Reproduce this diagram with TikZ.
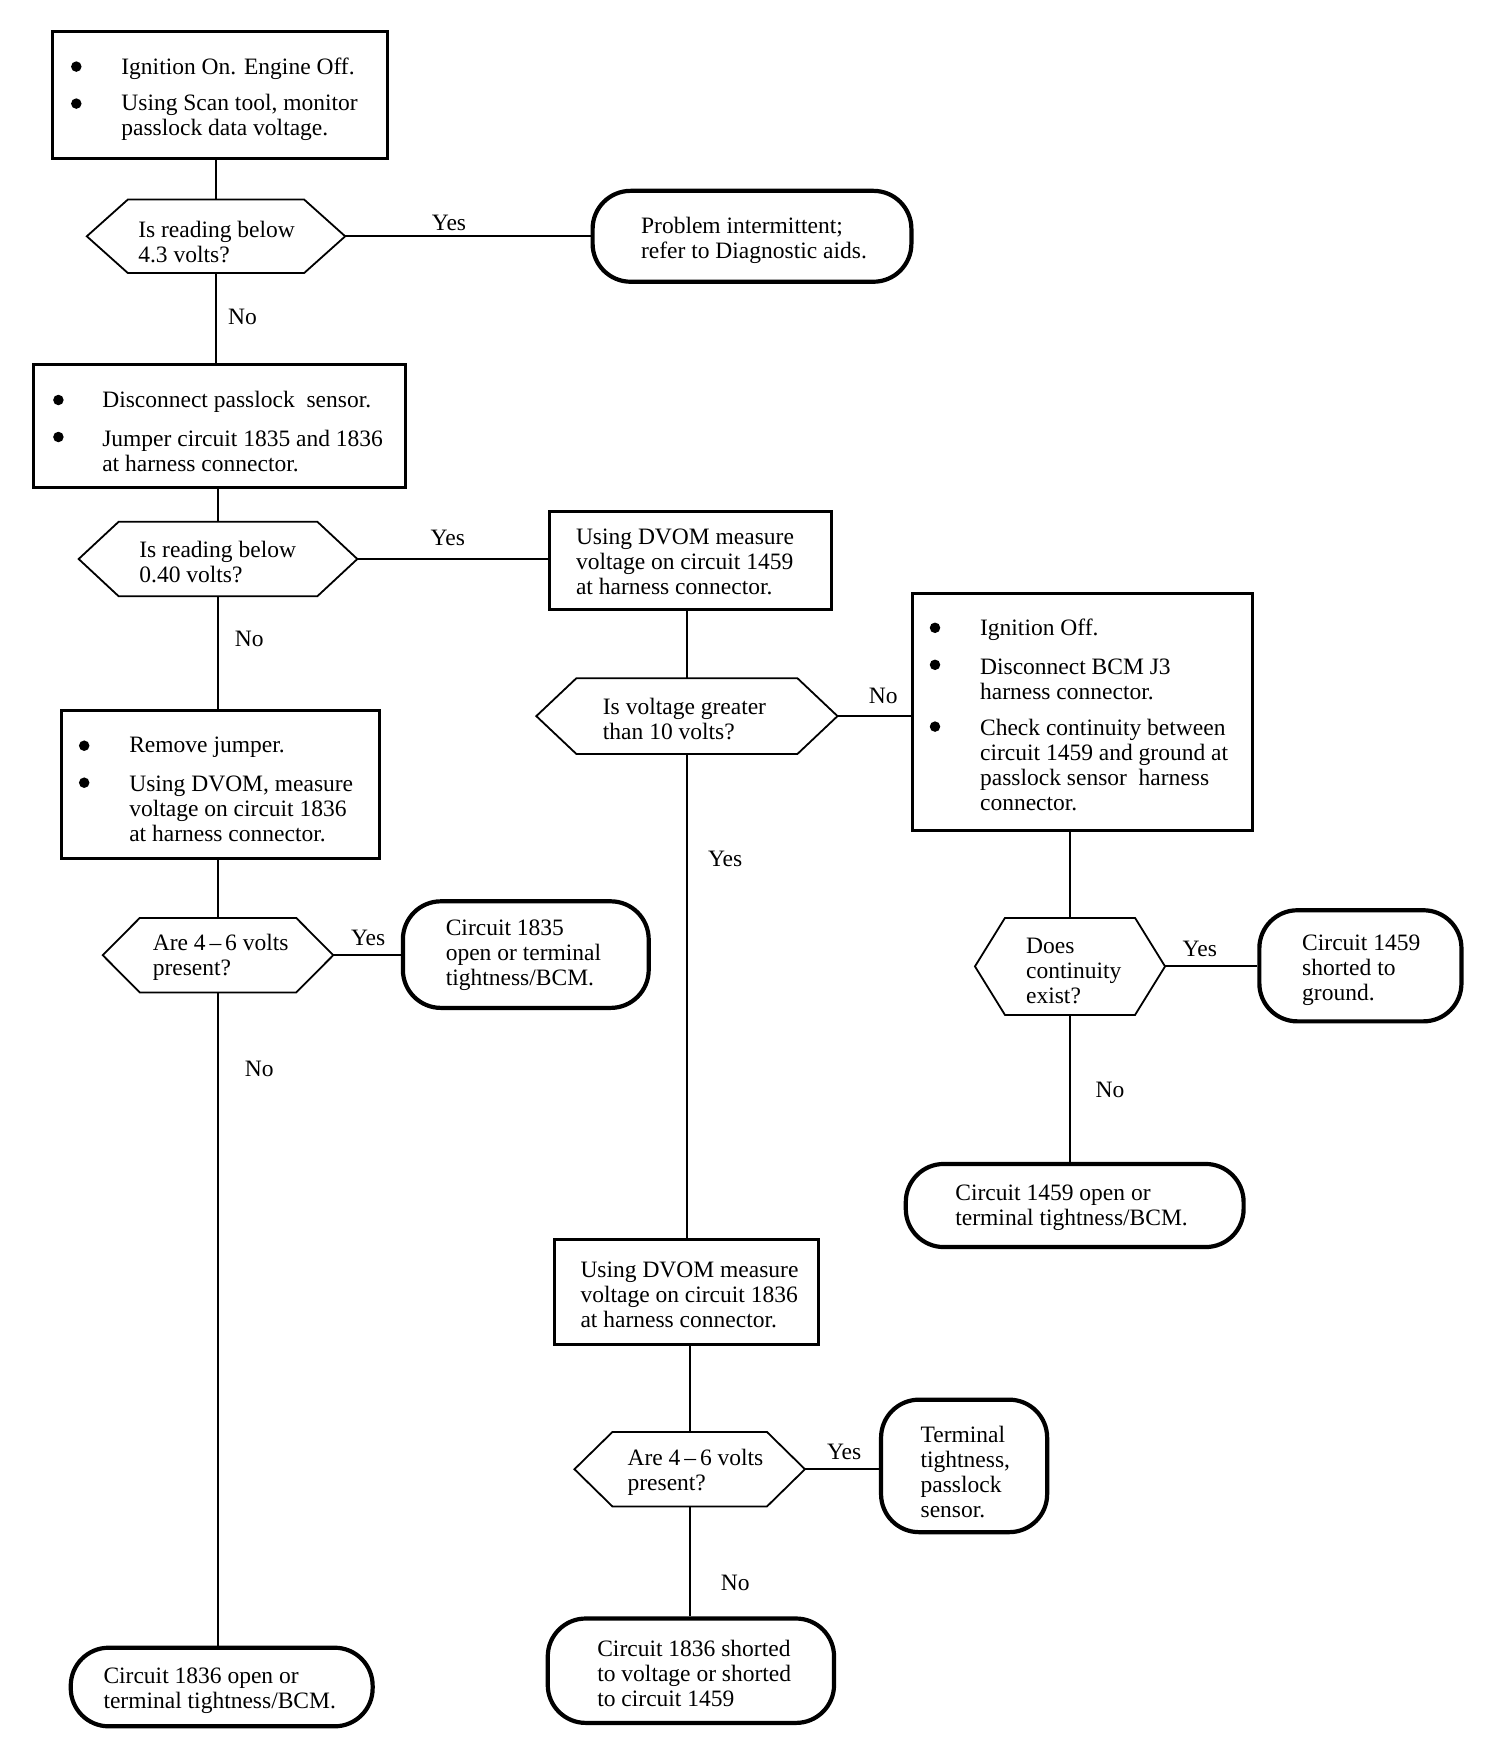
\documentclass[tikz,border=0pt]{standalone}
\usepackage{fontspec}
\setmainfont{Liberation Serif}
\usetikzlibrary{calc}
\newcommand\myhex[2]{\draw[hexline] (#1.west) -- ([xshift=#2pt]#1.north west) -- ([xshift=-#2pt]#1.north east) -- (#1.east) -- ([xshift=-#2pt]#1.south east) -- ([xshift=#2pt]#1.south west) -- cycle;}
\begin{document}
\begin{tikzpicture}[x=1pt,y=-1pt,
  every node/.style={font=\fontsize{23.5}{25}\selectfont},
  procbox/.style={draw, rectangle, line width=3pt, inner sep=0pt},
  termbox/.style={draw, rectangle, rounded corners=38pt, line width=4.2pt, inner sep=0pt},
  hexbox/.style={rectangle, inner sep=0pt},
  hexline/.style={line width=1.8pt, line join=miter},
  conn/.style={line width=2pt},
  txt/.style={anchor=west, align=left, inner sep=0pt, yshift=-3.2pt},
  lbl/.style={inner sep=0pt, yshift=-3pt},
  bul/.style={circle, fill=black, inner sep=0pt, minimum size=10.5pt, yshift=-1.5pt}]
\fill[white] (0,0) rectangle (1504,1760);
\useasboundingbox (0,0) rectangle (1504,1760);

% ---------- left column ----------
\node[procbox, minimum width=334.4pt, minimum height=126.9pt] (b1) at (220,94.8) {};
\node[bul] (b1u1) at (76.3,65.1) {};
\node[txt] (b1t1) at (121.2,65.1) {Ignition On. Engine Off.};
\node[bul] (b1u2) at (76.3,102.1) {};
\node[txt] (b1t2) at (121.2,114.5) {Using Scan tool, monitor\\passlock data voltage.};

\node[hexbox, minimum width=258pt, minimum height=73pt] (d1) at (216,236.3) {};
\myhex{d1}{41}
\node[txt] (d1t) at (138.1,238.5) {Is reading below\\4.3 volts?};

\node[termbox, minimum width=318.8pt, minimum height=90.9pt] (t1) at (752,236.3) {};
\node[txt] (t1t) at (640.9,236.8) {Problem intermittent;\\refer to Diagnostic aids.};

\node[procbox, minimum width=371.5pt, minimum height=122.3pt] (b2) at (219.4,426) {};
\node[bul] (b2u1) at (58.4,398.5) {};
\node[txt] (b2t1) at (102.1,398.5) {Disconnect passlock\ \ sensor.};
\node[bul] (b2u2) at (58.4,435.5) {};
\node[txt] (b2t2) at (102.1,447.8) {Jumper circuit 1835 and 1836\\at harness connector.};

\node[hexbox, minimum width=278.3pt, minimum height=74.1pt] (d2) at (218,559) {};
\myhex{d2}{40}
\node[txt] (d2t) at (139.2,559) {Is reading below\\0.40 volts?};

\node[procbox, minimum width=281.7pt, minimum height=97.7pt] (b3) at (690.8,560.6) {};
\node[txt] (b3t) at (575.8,559) {Using DVOM measure\\voltage on circuit 1459\\at harness connector.};

\node[procbox, minimum width=317.7pt, minimum height=148.1pt] (b4) at (220.5,784.6) {};
\node[bul] (b4u1) at (84.2,744.2) {};
\node[txt] (b4t1) at (129.1,744.2) {Remove jumper.};
\node[bul] (b4u2) at (84.2,781.2) {};
\node[txt] (b4t2) at (129.1,805.9) {Using DVOM, measure\\voltage on circuit 1836\\at harness connector.};

\node[hexbox, minimum width=230.1pt, minimum height=74.1pt] (d3) at (218,955.2) {};
\myhex{d3}{37}
\node[txt] (d3t) at (152.6,954.6) {Are 4\,--\,6 volts\\present?};

\node[termbox, minimum width=245.8pt, minimum height=106.6pt] (t2) at (525.8,954.6) {};
\node[txt] (t2t) at (445.6,952.4) {Circuit 1835\\open or terminal\\tightness/BCM.};

\node[termbox, minimum width=301.9pt, minimum height=78.6pt] (t3) at (221.7,1687) {};
\node[txt] (t3t) at (103.3,1687.5) {Circuit 1836 open or\\terminal tightness/BCM.};

% ---------- middle column ----------
\node[hexbox, minimum width=300.8pt, minimum height=75.2pt] (d4) at (686.9,716.1) {};
\myhex{d4}{40}
\node[txt] (d4t) at (602.7,716.1) {Is voltage greater\\than 10 volts?};

\node[procbox, minimum width=263.8pt, minimum height=105.5pt] (b6) at (686.4,1291.9) {};
\node[txt] (b6t) at (580.3,1291.9) {Using DVOM measure\\voltage on circuit 1836\\at harness connector.};

\node[hexbox, minimum width=230.1pt, minimum height=74.1pt] (d5) at (689.7,1469.2) {};
\myhex{d5}{38}
\node[txt] (d5t) at (627.4,1469.2) {Are 4\,--\,6 volts\\present?};

\node[termbox, minimum width=166.1pt, minimum height=132.5pt] (t4) at (964.1,1465.9) {};
\node[txt] (t4t) at (920.4,1468.7) {Terminal\\tightness,\\passlock\\sensor.};

\node[termbox, minimum width=286.3pt, minimum height=104.4pt] (t5) at (690.9,1670.7) {};
\node[txt] (t5t) at (597.1,1670.7) {Circuit 1836 shorted\\to voltage or shorted\\to circuit 1459};

% ---------- right column ----------
\node[procbox, minimum width=340.1pt, minimum height=236.9pt] (b5) at (1082.6,712.2) {};
\node[bul] (b5u1) at (935,626.3) {};
\node[txt] (b5t1) at (979.9,626.3) {Ignition Off.};
\node[bul] (b5u2) at (935,663.3) {};
\node[txt] (b5t2) at (979.9,675.7) {Disconnect BCM J3\\harness connector.};
\node[bul] (b5u3) at (935,725.1) {};
\node[txt] (b5t3) at (979.9,762.1) {Check continuity between\\circuit 1459 and ground at\\passlock sensor\ \ harness\\connector.};

\node[hexbox, minimum width=189.7pt, minimum height=96.6pt] (d6) at (1070,966.4) {};
\myhex{d6}{30}
\node[txt] (d6t) at (1025.9,968) {Does\\continuity\\exist?};

\node[termbox, minimum width=202.1pt, minimum height=111.1pt] (t6) at (1360.4,965.8) {};
\node[txt] (t6t) at (1302,967.5) {Circuit 1459\\shorted to\\ground.};

\node[termbox, minimum width=337.8pt, minimum height=83.1pt] (t7) at (1074.7,1205.5) {};
\node[txt] (t7t) at (955.2,1204.3) {Circuit 1459 open or\\terminal tightness/BCM.};

% ---------- connectors ----------
\draw[conn] (d1.north) -- (d1.north |- b1.south);
\draw[conn] (d1.east) -- (d1.east -| t1.west);
\draw[conn] (d1.south) -- (d1.south |- b2.north);
\draw[conn] (d2.north) -- (d2.north |- b2.south);
\draw[conn] (d2.east) -- (d2.east -| b3.west);
\draw[conn] (d2.south) -- (d2.south |- b4.north);
\draw[conn] (d3.north) -- (d3.north |- b4.south);
\draw[conn] (d3.east) -- (d3.east -| t2.west);
\draw[conn] (d3.south) -- (d3.south |- t3.north);
\draw[conn] (d4.north) -- (d4.north |- b3.south);
\draw[conn] (d4.east) -- (d4.east -| b5.west);
\draw[conn] (d4.south) -- (d4.south |- b6.north);
\draw[conn] (d5.north) -- (d5.north |- b6.south);
\draw[conn] (d5.east) -- (d5.east -| t4.west);
\draw[conn] (d5.south) -- (d5.south |- t5.north);
\draw[conn] (d6.north) -- (d6.north |- b5.south);
\draw[conn] (d6.east) -- (d6.east -| t6.west);
\draw[conn] (d6.south) -- (d6.south |- t7.north);

% ---------- labels ----------
\node[lbl] (y1) at (449,220) {Yes};
\node[lbl] (n1) at (242.4,314.3) {No};
\node[lbl] (y2) at (447.8,535.4) {Yes};
\node[lbl] (n2) at (249.2,636.4) {No};
\node[lbl] (y3) at (368.1,935) {Yes};
\node[lbl] (n3) at (259.3,1066.3) {No};
\node[lbl] (n4) at (883.3,692.5) {No};
\node[lbl] (y4) at (725.1,856.4) {Yes};
\node[lbl] (y5) at (844.1,1449) {Yes};
\node[lbl] (n5) at (735.2,1580.3) {No};
\node[lbl] (y6) at (1199.8,946.2) {Yes};
\node[lbl] (n6) at (1110,1086.5) {No};
\end{tikzpicture}
\end{document}
